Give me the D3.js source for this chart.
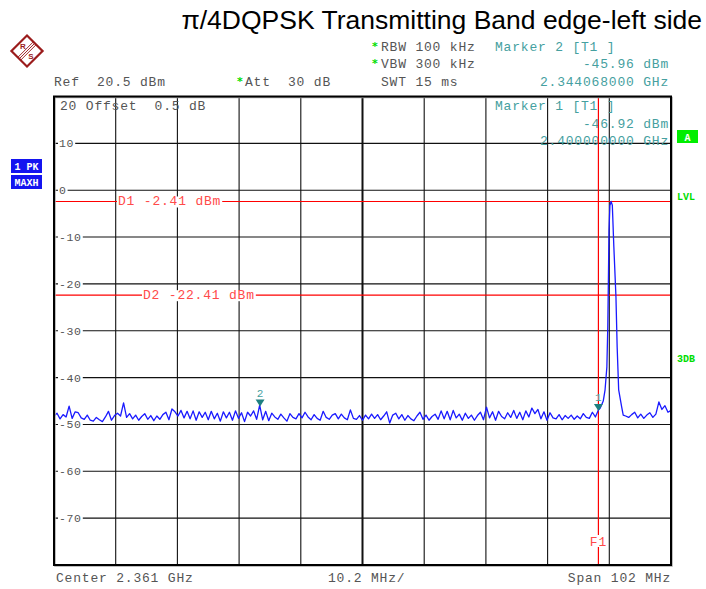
<!DOCTYPE html>
<html>
<head>
<meta charset="utf-8">
<script src="https://cdn.jsdelivr.net/npm/d3@7"></script>
<style>
  body { margin: 0; background: #fff; }
  svg { display: block; }
  .mono { font-family: 'Liberation Mono', 'DejaVu Sans Mono', monospace; font-size: 13px; letter-spacing: 0.8px; white-space: pre; }
</style>
</head>
<body>
<div id="chart"></div>
<script>
// sweep: 2.310 .. 2.412 GHz, noise floor sampled every 0.5 MHz (null = inside the carrier)
let startMHz = 2310
let stopMHz = 2412
let stepMHz = 0.5
let noiseDbm = [
  -48.2, -47.6, -48.8, -47.9, -48.4, -46.1, -48.7, -47.3, -47.5, -48.6,
  -48.9, -48.0, -49.1, -49.3, -48.5, -49.0, -49.4, -48.4, -47.2, -49.1,
  -48.1, -47.6, -48.2, -45.4, -48.5, -47.7, -48.8, -48.0, -49.1, -48.3,
  -47.7, -48.9, -48.1, -49.2, -48.2, -48.9, -47.9, -47.4, -49.0, -46.7,
  -47.3, -48.2, -47.0, -48.6, -47.2, -48.8, -47.1, -49.1, -47.3, -48.5,
  -47.4, -49.0, -47.2, -48.8, -47.6, -49.3, -47.3, -48.6, -47.4, -49.1,
  -47.1, -48.7, -47.5, -49.4, -47.4, -48.2, -47.1, -48.9, -45.9, -49.0,
  -47.2, -49.2, -47.6, -48.4, -48.9, -47.8, -48.6, -49.3, -47.7, -48.5,
  -48.8, -47.7, -48.6, -47.4, -48.4, -49.0, -47.9, -48.7, -49.1, -47.2,
  -48.5, -48.9, -48.0, -47.7, -48.8, -47.8, -48.6, -49.0, -46.9, -48.7,
  -48.9, -48.1, -49.1, -48.0, -48.8, -47.8, -48.7, -47.9, -49.0, -48.2,
  -47.3, -49.7, -48.0, -47.6, -48.8, -47.9, -49.1, -48.1, -48.8, -49.2,
  -48.2, -47.4, -48.9, -48.0, -49.1, -48.3, -47.8, -48.9, -47.1, -48.8,
  -47.2, -49.0, -47.0, -48.6, -47.8, -49.1, -47.6, -48.7, -48.0, -49.1,
  -48.1, -47.4, -49.0, -46.3, -48.6, -47.3, -49.1, -47.2, -48.3, -48.8,
  -47.5, -48.5, -47.0, -48.7, -47.4, -49.0, -47.1, -48.4, -46.5, -47.7,
  -46.8, -48.8, -47.3, -49.1, -47.5, -48.6, -48.8, -47.9, -49.0, -48.1,
  -48.7, -48.0, -48.9, -48.2, -48.8, -47.7, -48.5, -48.7, -47.4, -48.4,
  -46.92, null, null, null, null, null, null, null, null,
  -48.2, -48.5, -47.9, -47.4, -48.6, -47.8,
  -48.7, -48.0, -47.5, -48.5, -47.8, -45.2, -46.8, -46.0, -47.4, -47.0
]
// carrier at ~2.402 GHz
let peakMHz = [2400.3, 2400.8, 2401.1, 2401.4, 2401.55, 2401.65, 2401.75, 2401.9, 2402.1, 2402.3, 2402.55, 2402.9, 2403.1, 2403.35, 2403.85, 2404.1]
let peakDbm = [-46.5, -45.0, -42.6, -37.7, -29.2, -19.2, -8.5, -3.3, -2.41, -3.2, -12.0, -22.8, -33.5, -42.6, -46.3, -48.0]

let displayLines = [
  { name: 'D1', level: -2.41, labelX: 118 },
  { name: 'D2', level: -22.41, labelX: 143 }
]
let markers = [
  { id: '1', freq: 2400.0, level: -46.92 },
  { id: '2', freq: 2344.068, level: -45.96 }
]
let f1Freq = 2400.0
let yTicks = [10, 0, -10, -20, -30, -40, -50, -60, -70]

let W = 706
let H = 589
let frame = { left: 54, right: 671, top: 96.5, bottom: 565 }
let gray = '#555'
let teal = '#45a0a0'
let red = '#ff0000'
let labelRed = '#ff4a4a'
let green = '#00dd00'

let svg = d3.select('#chart').append('svg')
  .attr('width', W).attr('height', H)

let x = d3.scaleLinear().domain([startMHz, stopMHz]).range([frame.left, frame.right])
let y = d3.scaleLinear().domain([-80, 20]).range([frame.bottom, frame.top])

// title
svg.append('text')
  .attr('x', 702).attr('y', 29)
  .attr('text-anchor', 'end')
  .style('font-family', "'Liberation Sans', Arial, sans-serif")
  .style('font-size', '26.5px')
  .text('π/4DQPSK Transmitting Band edge-left side')

// R&S logo
let logo = svg.append('g').attr('transform', 'translate(27,51) rotate(45)')
logo.append('rect').attr('x', -11).attr('y', -11).attr('width', 22).attr('height', 22)
  .attr('fill', 'none').attr('stroke', '#9b1c1c').attr('stroke-width', 2.2)
logo.selectAll('line.lg').data([-2, 0, 2]).enter().append('line')
  .attr('x1', (d) => d).attr('x2', (d) => d).attr('y1', -11).attr('y2', 11)
  .attr('stroke', '#9b1c1c').attr('stroke-width', 0.9)
svg.append('text').attr('x', 23).attr('y', 49).attr('text-anchor', 'middle')
  .style('font', "bold 8px 'Liberation Sans', sans-serif").attr('fill', '#9b1c1c').text('R')
svg.append('text').attr('x', 31).attr('y', 59).attr('text-anchor', 'middle')
  .style('font', "bold 8px 'Liberation Sans', sans-serif").attr('fill', '#9b1c1c').text('S')

// header text
function mono (tx, ty, str, color, anchor, parent) {
  return (parent || svg).append('text').attr('class', 'mono')
    .attr('x', tx).attr('y', ty)
    .attr('text-anchor', anchor || 'start')
    .attr('fill', color || gray)
    .text(str)
}
function star (tx, ty) {
  svg.append('text').attr('x', tx).attr('y', ty)
    .style('font', "bold 11px 'DejaVu Sans', sans-serif")
    .attr('fill', green).text('*')
}

mono(54, 86, 'Ref  20.5 dBm')
star(237, 85); mono(245, 86, 'Att  30 dB')
star(372, 50); mono(381, 51, 'RBW 100 kHz')
star(372, 67); mono(381, 68, 'VBW 300 kHz')
mono(381, 86, 'SWT 15 ms')
mono(495, 51, 'Marker 2 [T1 ]', teal)
mono(669, 68, '-45.96 dBm', teal, 'end')
mono(669, 86, '2.344068000 GHz', teal, 'end')

// left badges
let badges = [{ t: '1 PK', y: 159 }, { t: 'MAXH', y: 175 }]
badges.forEach((b) => {
  svg.append('rect').attr('x', 11).attr('y', b.y).attr('width', 31).attr('height', 14).attr('fill', '#1414f0')
  svg.append('text').attr('x', 26.5).attr('y', b.y + 10.5).attr('text-anchor', 'middle')
    .style('font', "bold 10px 'Liberation Mono', monospace").style('white-space', 'pre')
    .attr('fill', '#fff').text(b.t)
})

// right side indicators
svg.append('rect').attr('x', 677).attr('y', 130).attr('width', 21).attr('height', 13).attr('fill', '#00ee00')
svg.append('text').attr('x', 687.5).attr('y', 140.5).attr('text-anchor', 'middle')
  .style('font', "bold 10px 'Liberation Mono', monospace").attr('fill', '#fff').text('A')
svg.append('text').attr('x', 677).attr('y', 200)
  .style('font', "bold 10px 'Liberation Mono', monospace").attr('fill', green).text('LVL')
svg.append('text').attr('x', 677).attr('y', 362)
  .style('font', "bold 10px 'Liberation Mono', monospace").attr('fill', green).text('3DB')

// grid
let plot = svg.append('g')
let xTicks = d3.range(0, 11).map((i) => startMHz + i * (stopMHz - startMHz) / 10)
plot.selectAll('line.vg').data(xTicks).enter().append('line')
  .attr('x1', (d) => x(d)).attr('x2', (d) => x(d))
  .attr('y1', frame.top).attr('y2', frame.bottom)
  .attr('stroke', '#111').attr('stroke-width', (d, i) => i === 5 ? 2 : 1.1)
plot.selectAll('line.hg').data(yTicks).enter().append('line')
  .attr('x1', frame.left).attr('x2', frame.right)
  .attr('y1', (d) => y(d)).attr('y2', (d) => y(d))
  .attr('stroke', '#111').attr('stroke-width', 1.1)

// y labels (sit on the grid line, white behind)
let yl = plot.selectAll('g.yl').data(yTicks).enter().append('g')
  .attr('transform', (d) => 'translate(59,' + y(d) + ')')
yl.append('rect').attr('x', -1).attr('y', -5).attr('width', (d) => String(d).length * 7.6 + 2).attr('height', 10).attr('fill', '#fff')
yl.append('text').attr('y', 4)
  .style('font', "11.5px 'Liberation Mono', monospace").style('letter-spacing', '0.6px')
  .attr('fill', gray).text((d) => d)

// in-frame text
mono(60, 110, '20 Offset  0.5 dB', gray, 'start', plot)
mono(495, 110, 'Marker 1 [T1 ]', teal, 'start', plot)
mono(669, 128, '-46.92 dBm', teal, 'end', plot)
mono(669, 145, '2.400000000 GHz', teal, 'end', plot)

// display lines
displayLines.forEach((d) => {
  plot.append('line').attr('x1', frame.left).attr('x2', frame.right)
    .attr('y1', y(d.level)).attr('y2', y(d.level))
    .attr('stroke', red).attr('stroke-width', 1.2)
  let str = d.name + ' ' + d.level.toFixed(2) + ' dBm'
  let bg = plot.append('rect').attr('fill', '#fff')
  let t = mono(d.labelX, y(d.level) + 4, str, labelRed, 'start', plot)
  let bb = t.node().getBBox()
  bg.attr('x', bb.x - 1).attr('y', bb.y + 2).attr('width', bb.width + 2).attr('height', bb.height - 4)
})

// F1 frequency line
plot.append('line').attr('x1', x(f1Freq)).attr('x2', x(f1Freq))
  .attr('y1', frame.top).attr('y2', frame.bottom)
  .attr('stroke', red).attr('stroke-width', 1.2)
plot.append('rect').attr('x', x(f1Freq) - 8).attr('y', 535).attr('width', 16).attr('height', 12).attr('fill', '#fff')
mono(x(f1Freq), 546, 'F1', labelRed, 'middle', plot)

// trace
let trace = noiseDbm
  .map((v, i) => ({ f: startMHz + i * stepMHz, v: v }))
  .filter((d) => d.v !== null)
  .concat(peakMHz.map((f, i) => ({ f: f, v: peakDbm[i] })))
  .sort((a, b) => a.f - b.f)

plot.append('path')
  .datum(trace)
  .attr('fill', 'none')
  .attr('stroke', '#1a1aff')
  .attr('stroke-width', 1.3)
  .attr('stroke-linejoin', 'round')
  .attr('d', d3.line().x((d) => x(d.f)).y((d) => y(d.v)))

// markers
let mk = plot.selectAll('g.mk').data(markers).enter().append('g')
  .attr('transform', (d) => 'translate(' + x(d.freq) + ',' + y(d.level) + ')')
mk.append('path').attr('d', 'M-4.5,-6L4.5,-6L0,1Z').attr('fill', '#1e8080')
mk.append('text').attr('y', -9).attr('text-anchor', 'middle')
  .style('font', "11px 'Liberation Mono', monospace").attr('fill', teal).text((d) => d.id)

// frame
svg.append('rect').attr('x', frame.left + 1).attr('y', frame.top + 1)
  .attr('width', frame.right - frame.left).attr('height', frame.bottom - frame.top)
  .attr('fill', 'none').attr('stroke', '#aaa').attr('stroke-width', 1.5)
svg.append('rect').attr('x', frame.left).attr('y', frame.top)
  .attr('width', frame.right - frame.left).attr('height', frame.bottom - frame.top)
  .attr('fill', 'none').attr('stroke', '#000').attr('stroke-width', 2)

// bottom labels
mono(56, 582, 'Center 2.361 GHz')
mono(328, 582, '10.2 MHz/')
mono(671, 582, 'Span 102 MHz', gray, 'end')
</script>
</body>
</html>
